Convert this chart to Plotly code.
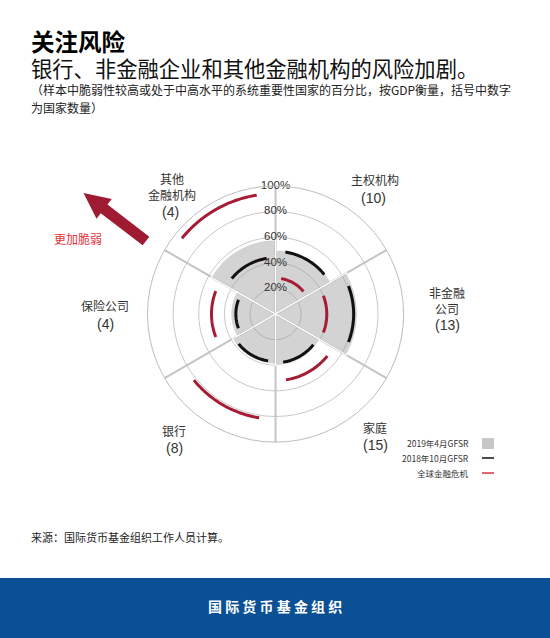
import numpy as np
import plotly.graph_objects as go

W, H = 550, 638
FONT = "Noto Sans CJK SC"

# ---- data -------------------------------------------------------------
categories = ["主权机构", "非金融公司", "家庭", "银行", "保险公司", "其他金融机构"]
category_labels = ["主权机构", "非金融<br>公司", "家庭", "银行", "保险公司", "其他<br>金融机构"]
country_counts = [10, 13, 15, 8, 4, 4]
apr_2019 = [50, 64, 40, 39, 35, 58]   # 2019年4月GFSR  (gray wedges)
oct_2018 = [49, 61, 38, 37, 31, 44]   # 2018年10月GFSR (black arcs)
gfc = [28, 40, 52, 82, 50, 94]        # 全球金融危机   (red arcs)
radial_ticks = [20, 40, 60, 80, 100]
radial_tick_labels = ["20%", "40%", "60%", "80%", "100%"]
series_names = ["2019年4月GFSR", "2018年10月GFSR", "全球金融危机"]

GRAY = "rgba(150,150,150,0.42)"
BLACK = "#111111"
RED = "#a51c34"
ARC_HALF = 21  # degrees each side of the sector centre

# sectors run clockwise from 60deg, 60deg wide each
centers = [60 - 60 * i for i in range(len(categories))]


def px(x):
    return x / W


def py(y):
    return 1 - y / H


def arc_trace(values, color):
    th, rr = [], []
    for c, v in zip(centers, values):
        t = np.linspace(c - ARC_HALF, c + ARC_HALF, 40)
        th += list(t) + [None]
        rr += [v] * len(t) + [None]
    return go.Scatterpolar(
        theta=th, r=rr, mode="lines",
        line=dict(color=color, width=3),
        hoverinfo="skip", showlegend=False, connectgaps=False,
    )


fig = go.Figure()

fig.add_trace(go.Barpolar(
    theta=centers, r=apr_2019, width=[60] * len(centers),
    name=series_names[0],
    marker=dict(color=GRAY, line=dict(color="white", width=1.2)),
    hovertemplate="%{customdata}: %{r}%<extra></extra>",
    customdata=categories, showlegend=False,
))
fig.add_trace(arc_trace(oct_2018, BLACK))
fig.add_trace(arc_trace(gfc, RED))

# radial tick labels on the vertical spoke
fig.add_trace(go.Scatterpolar(
    theta=[90] * len(radial_ticks), r=radial_ticks, mode="text",
    text=radial_tick_labels,
    textfont=dict(family="Liberation Sans", size=11.5, color="#333333"),
    hoverinfo="skip", showlegend=False, cliponaxis=False,
))

fig.update_layout(
    width=W, height=H,
    margin=dict(l=0, r=0, t=0, b=0),
    paper_bgcolor="white",
    font=dict(family=FONT, color="#222222"),
    barmode="overlay",
    polar=dict(
        domain=dict(x=[0.268, 0.734], y=[0.307, 0.7085]),
        bgcolor="white",
        angularaxis=dict(
            direction="counterclockwise", rotation=0,
            tickmode="array", tickvals=[30, 90, 150, 210, 270, 330],
            showticklabels=False, ticks="",
            showline=True, linecolor="#bdbdbd", linewidth=1,
            gridcolor="#c4c4c4", gridwidth=1.5,
        ),
        radialaxis=dict(
            range=[0, 100], tickvals=radial_ticks,
            showticklabels=False, ticks="", showline=False,
            gridcolor="#c8c8c8", gridwidth=1,
        ),
    ),
)

ann = []

# heading block
ann.append(dict(text="<b>关注风险</b>", x=px(29), y=py(41), xanchor="left", yanchor="middle",
                font=dict(size=23.5, color="#000000")))
ann.append(dict(text="银行、非金融企业和其他金融机构的风险加剧。", x=px(29), y=py(67.5),
                xanchor="left", yanchor="middle", font=dict(size=21.3, color="#111111")))
ann.append(dict(text="（样本中脆弱性较高或处于中高水平的系统重要性国家的百分比，按GDP衡量，括号中数字",
                x=px(29), y=py(89), xanchor="left", yanchor="middle",
                font=dict(size=12, color="#222222")))
ann.append(dict(text="为国家数量）", x=px(29), y=py(107), xanchor="left", yanchor="middle",
                font=dict(size=12, color="#222222")))

# category labels (name, count) placed around the dial
label_pos = [
    ((375, 180), (373, 198)),
    ((447, 300), (447, 325)),
    ((375, 428), (375, 445)),
    ((174, 430), (174, 448)),
    ((105, 306), (105, 324)),
    ((172, 186), (170, 212)),
]
for lab, n, ((nx, ny), (cx, cy)) in zip(category_labels, country_counts, label_pos):
    ann.append(dict(text=lab, x=px(nx), y=py(ny), xanchor="center", yanchor="middle",
                    font=dict(size=12, color="#333333")))
    ann.append(dict(text=f"({n})", x=px(cx), y=py(cy), xanchor="center", yanchor="middle",
                    font=dict(family="Liberation Sans", size=14, color="#333333")))

ann.append(dict(text="更加脆弱", x=px(78), y=py(238), xanchor="center", yanchor="middle",
                font=dict(size=12, color="#e8303a")))

# custom legend, swatch on the right
legend_rows = [443, 458, 473]
for name, yy in zip(series_names, legend_rows):
    ann.append(dict(text=name, x=px(471), y=py(yy), xanchor="right", yanchor="middle",
                    font=dict(size=8.5, color="#333333")))

ann.append(dict(text="来源：国际货币基金组织工作人员计算。", x=px(29), y=py(537),
                xanchor="left", yanchor="middle", font=dict(size=11, color="#222222")))
ann.append(dict(text="<b>" + " ".join("国际货币基金组织") + "</b>", x=0.5, y=py(606),
                xanchor="center", yanchor="middle", font=dict(size=14, color="white")))

for a in ann:
    a.update(xref="paper", yref="paper", showarrow=False)
fig.update_layout(annotations=ann)

shapes = [
    dict(type="rect", xref="paper", yref="paper", x0=0, x1=1, y0=0, y1=py(578),
         fillcolor="#0b4f95", line=dict(width=0), layer="below"),
    dict(type="rect", xref="paper", yref="paper", x0=px(482), x1=px(494),
         y0=py(449), y1=py(438), fillcolor="#c8c8c8", line=dict(width=0)),
    dict(type="line", xref="paper", yref="paper", x0=px(482), x1=px(494),
         y0=py(458), y1=py(458), line=dict(color=BLACK, width=1.5)),
    dict(type="line", xref="paper", yref="paper", x0=px(482), x1=px(494),
         y0=py(473), y1=py(473), line=dict(color="#d9344a", width=1.5)),
]

# thick "more vulnerable" arrow, drawn as a polygon
tail = np.array([146.0, 241.0])
tip = np.array([83.5, 193.0])
u = (tip - tail) / np.linalg.norm(tip - tail)
n = np.array([-u[1], u[0]])
base = tip - u * 26
pts = [tail + n * 5.5, base + n * 5.5, base + n * 12.5, tip,
       base - n * 12.5, base - n * 5.5, tail - n * 5.5]
path = "M " + " L ".join(f"{px(p[0]):.4f},{py(p[1]):.4f}" for p in pts) + " Z"
shapes.append(dict(type="path", xref="paper", yref="paper", path=path,
                   fillcolor="#9e1b32", line=dict(width=0)))

fig.update_layout(shapes=shapes)

fig.write_html(
    "out.html",
    config={"displayModeBar": False},
    post_script="document.body.style.margin='0';document.body.style.overflow='hidden';",
)
